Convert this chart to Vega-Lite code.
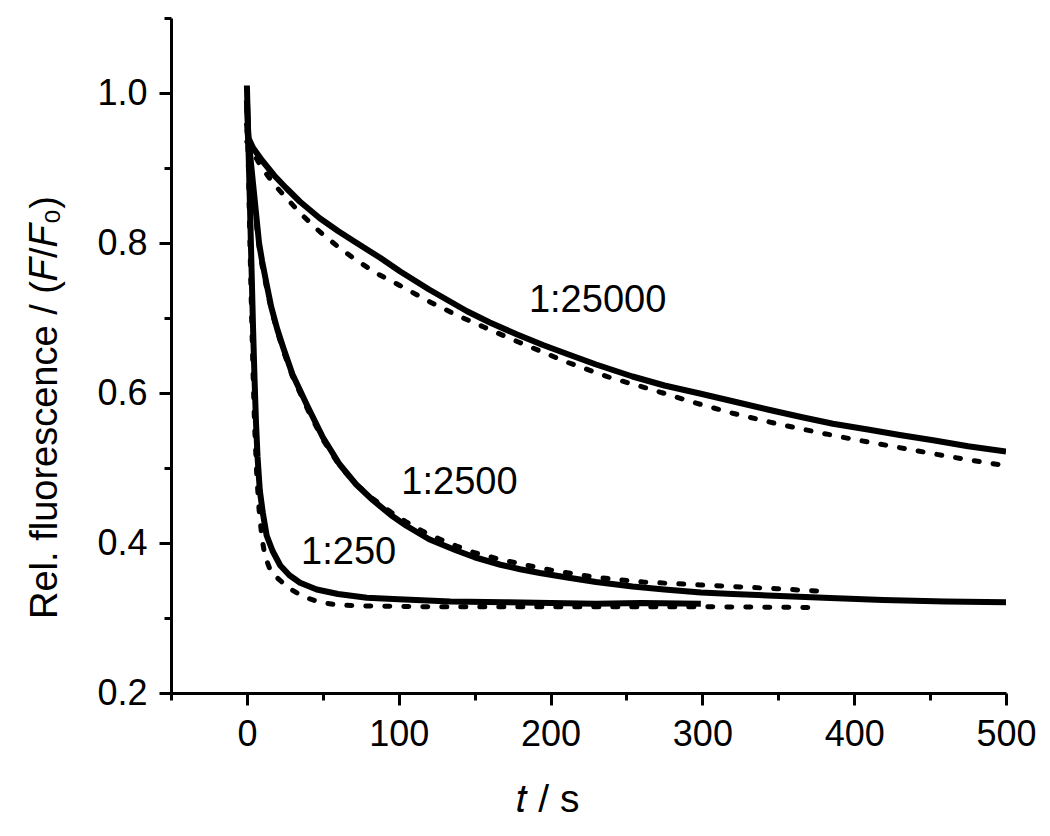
{
  "$schema": "https://vega.github.io/schema/vega-lite/v6.json",
  "width": 835,
  "height": 675,
  "autosize": "none",
  "padding": {"left": 171, "top": 18, "right": 44, "bottom": 143},
  "background": "white",
  "config": {
    "view": {"stroke": null},
    "axis": {
      "domainColor": "black", "domainWidth": 3, "tickColor": "black", "tickWidth": 3,
      "labelColor": "black", "labelFont": "Liberation Sans", "labelFontSize": 36,
      "titleColor": "black", "titleFont": "Liberation Sans", "titleFontSize": 38, "titleFontWeight": "normal",
      "grid": false, "labelFlush": false, "labelOverlap": false, "labelBound": false
    }
  },
  "datasets": {
    "curves": [
      {"s":"1:250","k":"data","t":0,"y":1.01},{"s":"1:250","k":"data","t":0.5,"y":0.97},{"s":"1:250","k":"data","t":1,"y":0.93},{"s":"1:250","k":"data","t":2,"y":0.85},{"s":"1:250","k":"data","t":3,"y":0.77},{"s":"1:250","k":"data","t":4,"y":0.69},{"s":"1:250","k":"data","t":5,"y":0.62},{"s":"1:250","k":"data","t":6,"y":0.56},{"s":"1:250","k":"data","t":7,"y":0.515},{"s":"1:250","k":"data","t":8.5,"y":0.47},{"s":"1:250","k":"data","t":10.5,"y":0.44},{"s":"1:250","k":"data","t":13,"y":0.41},{"s":"1:250","k":"data","t":17,"y":0.389},{"s":"1:250","k":"data","t":22,"y":0.37},{"s":"1:250","k":"data","t":28,"y":0.357},{"s":"1:250","k":"data","t":35,"y":0.347},{"s":"1:250","k":"data","t":46,"y":0.338},{"s":"1:250","k":"data","t":60,"y":0.332},{"s":"1:250","k":"data","t":79,"y":0.327},{"s":"1:250","k":"data","t":100,"y":0.325},{"s":"1:250","k":"data","t":134,"y":0.322},{"s":"1:250","k":"data","t":170,"y":0.321},{"s":"1:250","k":"data","t":200,"y":0.32},{"s":"1:250","k":"data","t":230,"y":0.319},{"s":"1:250","k":"data","t":260,"y":0.32},{"s":"1:250","k":"data","t":299,"y":0.319},
      {"s":"1:250","k":"fit","t":0,"y":0.98},{"s":"1:250","k":"fit","t":1,"y":0.9},{"s":"1:250","k":"fit","t":2,"y":0.8},{"s":"1:250","k":"fit","t":3,"y":0.71},{"s":"1:250","k":"fit","t":4,"y":0.63},{"s":"1:250","k":"fit","t":5,"y":0.56},{"s":"1:250","k":"fit","t":6.5,"y":0.49},{"s":"1:250","k":"fit","t":8,"y":0.445},{"s":"1:250","k":"fit","t":10,"y":0.405},{"s":"1:250","k":"fit","t":12,"y":0.382},{"s":"1:250","k":"fit","t":15,"y":0.366},{"s":"1:250","k":"fit","t":18.5,"y":0.356},{"s":"1:250","k":"fit","t":22,"y":0.35},{"s":"1:250","k":"fit","t":26,"y":0.342},{"s":"1:250","k":"fit","t":35,"y":0.331},{"s":"1:250","k":"fit","t":42,"y":0.325},{"s":"1:250","k":"fit","t":50,"y":0.32},{"s":"1:250","k":"fit","t":63,"y":0.317},{"s":"1:250","k":"fit","t":80,"y":0.316},{"s":"1:250","k":"fit","t":120,"y":0.315},{"s":"1:250","k":"fit","t":200,"y":0.315},{"s":"1:250","k":"fit","t":300,"y":0.315},{"s":"1:250","k":"fit","t":372,"y":0.314},
      {"s":"1:2500","k":"data","t":0,"y":0.96},{"s":"1:2500","k":"data","t":2,"y":0.92},{"s":"1:2500","k":"data","t":4,"y":0.88},{"s":"1:2500","k":"data","t":6,"y":0.84},{"s":"1:2500","k":"data","t":8,"y":0.8},{"s":"1:2500","k":"data","t":10,"y":0.776},{"s":"1:2500","k":"data","t":13,"y":0.745},{"s":"1:2500","k":"data","t":16,"y":0.715},{"s":"1:2500","k":"data","t":20,"y":0.685},{"s":"1:2500","k":"data","t":24,"y":0.66},{"s":"1:2500","k":"data","t":30,"y":0.625},{"s":"1:2500","k":"data","t":40,"y":0.582},{"s":"1:2500","k":"data","t":50,"y":0.541},{"s":"1:2500","k":"data","t":61,"y":0.505},{"s":"1:2500","k":"data","t":72,"y":0.478},{"s":"1:2500","k":"data","t":83,"y":0.457},{"s":"1:2500","k":"data","t":95,"y":0.437},{"s":"1:2500","k":"data","t":105,"y":0.423},{"s":"1:2500","k":"data","t":120,"y":0.405},{"s":"1:2500","k":"data","t":138,"y":0.39},{"s":"1:2500","k":"data","t":150,"y":0.381},{"s":"1:2500","k":"data","t":167,"y":0.371},{"s":"1:2500","k":"data","t":180,"y":0.365},{"s":"1:2500","k":"data","t":193,"y":0.36},{"s":"1:2500","k":"data","t":211,"y":0.354},{"s":"1:2500","k":"data","t":230,"y":0.348},{"s":"1:2500","k":"data","t":254,"y":0.342},{"s":"1:2500","k":"data","t":275,"y":0.338},{"s":"1:2500","k":"data","t":299,"y":0.334},{"s":"1:2500","k":"data","t":320,"y":0.332},{"s":"1:2500","k":"data","t":343,"y":0.33},{"s":"1:2500","k":"data","t":380,"y":0.327},{"s":"1:2500","k":"data","t":419,"y":0.324},{"s":"1:2500","k":"data","t":460,"y":0.322},{"s":"1:2500","k":"data","t":500,"y":0.321},
      {"s":"1:2500","k":"fit","t":0,"y":0.95},{"s":"1:2500","k":"fit","t":2,"y":0.91},{"s":"1:2500","k":"fit","t":4,"y":0.87},{"s":"1:2500","k":"fit","t":6,"y":0.83},{"s":"1:2500","k":"fit","t":8,"y":0.795},{"s":"1:2500","k":"fit","t":10,"y":0.77},{"s":"1:2500","k":"fit","t":13,"y":0.74},{"s":"1:2500","k":"fit","t":16,"y":0.712},{"s":"1:2500","k":"fit","t":20,"y":0.682},{"s":"1:2500","k":"fit","t":24,"y":0.656},{"s":"1:2500","k":"fit","t":30,"y":0.622},{"s":"1:2500","k":"fit","t":40,"y":0.578},{"s":"1:2500","k":"fit","t":50,"y":0.538},{"s":"1:2500","k":"fit","t":61,"y":0.503},{"s":"1:2500","k":"fit","t":72,"y":0.478},{"s":"1:2500","k":"fit","t":83,"y":0.459},{"s":"1:2500","k":"fit","t":95,"y":0.441},{"s":"1:2500","k":"fit","t":105,"y":0.428},{"s":"1:2500","k":"fit","t":120,"y":0.411},{"s":"1:2500","k":"fit","t":138,"y":0.396},{"s":"1:2500","k":"fit","t":150,"y":0.387},{"s":"1:2500","k":"fit","t":167,"y":0.378},{"s":"1:2500","k":"fit","t":185,"y":0.37},{"s":"1:2500","k":"fit","t":200,"y":0.364},{"s":"1:2500","k":"fit","t":221,"y":0.357},{"s":"1:2500","k":"fit","t":240,"y":0.352},{"s":"1:2500","k":"fit","t":261,"y":0.348},{"s":"1:2500","k":"fit","t":280,"y":0.346},{"s":"1:2500","k":"fit","t":299,"y":0.344},{"s":"1:2500","k":"fit","t":320,"y":0.342},{"s":"1:2500","k":"fit","t":349,"y":0.339},{"s":"1:2500","k":"fit","t":376,"y":0.336},
      {"s":"1:25000","k":"data","t":0,"y":0.99},{"s":"1:25000","k":"data","t":1,"y":0.94},{"s":"1:25000","k":"data","t":4,"y":0.927},{"s":"1:25000","k":"data","t":10,"y":0.91},{"s":"1:25000","k":"data","t":18,"y":0.89},{"s":"1:25000","k":"data","t":26,"y":0.873},{"s":"1:25000","k":"data","t":35,"y":0.855},{"s":"1:25000","k":"data","t":48,"y":0.833},{"s":"1:25000","k":"data","t":60,"y":0.816},{"s":"1:25000","k":"data","t":70,"y":0.803},{"s":"1:25000","k":"data","t":88,"y":0.78},{"s":"1:25000","k":"data","t":101,"y":0.762},{"s":"1:25000","k":"data","t":120,"y":0.738},{"s":"1:25000","k":"data","t":145,"y":0.709},{"s":"1:25000","k":"data","t":160,"y":0.694},{"s":"1:25000","k":"data","t":178,"y":0.678},{"s":"1:25000","k":"data","t":195,"y":0.664},{"s":"1:25000","k":"data","t":211,"y":0.652},{"s":"1:25000","k":"data","t":230,"y":0.638},{"s":"1:25000","k":"data","t":254,"y":0.622},{"s":"1:25000","k":"data","t":275,"y":0.61},{"s":"1:25000","k":"data","t":299,"y":0.599},{"s":"1:25000","k":"data","t":320,"y":0.589},{"s":"1:25000","k":"data","t":343,"y":0.578},{"s":"1:25000","k":"data","t":365,"y":0.568},{"s":"1:25000","k":"data","t":386,"y":0.559},{"s":"1:25000","k":"data","t":410,"y":0.551},{"s":"1:25000","k":"data","t":430,"y":0.544},{"s":"1:25000","k":"data","t":452,"y":0.537},{"s":"1:25000","k":"data","t":475,"y":0.529},{"s":"1:25000","k":"data","t":500,"y":0.522},
      {"s":"1:25000","k":"fit","t":0,"y":0.935},{"s":"1:25000","k":"fit","t":4,"y":0.92},{"s":"1:25000","k":"fit","t":10,"y":0.9},{"s":"1:25000","k":"fit","t":18,"y":0.878},{"s":"1:25000","k":"fit","t":26,"y":0.86},{"s":"1:25000","k":"fit","t":35,"y":0.84},{"s":"1:25000","k":"fit","t":48,"y":0.815},{"s":"1:25000","k":"fit","t":60,"y":0.795},{"s":"1:25000","k":"fit","t":70,"y":0.78},{"s":"1:25000","k":"fit","t":85,"y":0.76},{"s":"1:25000","k":"fit","t":101,"y":0.743},{"s":"1:25000","k":"fit","t":120,"y":0.722},{"s":"1:25000","k":"fit","t":138,"y":0.704},{"s":"1:25000","k":"fit","t":156,"y":0.688},{"s":"1:25000","k":"fit","t":180,"y":0.667},{"s":"1:25000","k":"fit","t":211,"y":0.641},{"s":"1:25000","k":"fit","t":240,"y":0.62},{"s":"1:25000","k":"fit","t":266,"y":0.605},{"s":"1:25000","k":"fit","t":295,"y":0.587},{"s":"1:25000","k":"fit","t":320,"y":0.573},{"s":"1:25000","k":"fit","t":349,"y":0.559},{"s":"1:25000","k":"fit","t":375,"y":0.548},{"s":"1:25000","k":"fit","t":400,"y":0.538},{"s":"1:25000","k":"fit","t":425,"y":0.529},{"s":"1:25000","k":"fit","t":452,"y":0.519},{"s":"1:25000","k":"fit","t":475,"y":0.511},{"s":"1:25000","k":"fit","t":500,"y":0.503}
    ],
    "labels": [
      {"label":"1:25000","t":231,"y":0.723},
      {"label":"1:2500","t":140,"y":0.48},
      {"label":"1:250","t":67,"y":0.387}
    ]
  },
  "resolve": {"axis": {"x": "independent", "y": "independent"}},
  "layer": [
    {
      "data": {"name": "curves"},
      "transform": [{"filter": "datum.k === 'fit'"}],
      "mark": {"type": "line", "color": "black", "strokeWidth": 5, "strokeDash": [5, 14], "strokeCap": "round", "clip": true},
      "encoding": {
        "x": {"field": "t", "type": "quantitative", "scale": {"domain": [-50, 500], "nice": false, "zero": false},
          "axis": {"orient": "bottom", "values": [-50, 50, 150, 250, 350, 450], "tickSize": 7, "labels": false, "domain": false, "title": null}},
        "y": {"field": "y", "type": "quantitative", "scale": {"domain": [0.2, 1.1], "nice": false, "zero": false},
          "axis": {"orient": "left", "values": [0.3, 0.5, 0.7, 0.9, 1.1], "tickSize": 7, "labels": false, "domain": false, "title": null}},
        "detail": {"field": "s"}
      }
    },
    {
      "data": {"name": "curves"},
      "transform": [{"filter": "datum.k === 'data'"}],
      "mark": {"type": "line", "color": "black", "strokeWidth": 6, "strokeJoin": "round", "clip": true},
      "encoding": {
        "x": {"field": "t", "type": "quantitative",
          "axis": {"orient": "bottom", "values": [0, 100, 200, 300, 400, 500], "tickSize": 12, "labelPadding": 12, "title": "𝑡 / s", "titleFontSize": 39, "titlePadding": 28, "titleX": 376}},
        "y": {"field": "y", "type": "quantitative",
          "axis": {"orient": "left", "values": [0.2, 0.4, 0.6, 0.8, 1.0], "format": ".1f", "tickSize": 12, "labelPadding": 12, "title": "Rel. fluorescence / (𝐹/𝐹₀)", "titlePadding": 32, "titleY": 389}},
        "detail": {"field": "s"}
      }
    },
    {
      "data": {"name": "labels"},
      "mark": {"type": "text", "font": "Liberation Sans", "fontSize": 38, "color": "black", "align": "center", "baseline": "middle"},
      "encoding": {
        "x": {"field": "t", "type": "quantitative", "axis": null},
        "y": {"field": "y", "type": "quantitative", "axis": null},
        "text": {"field": "label"}
      }
    }
  ]
}
